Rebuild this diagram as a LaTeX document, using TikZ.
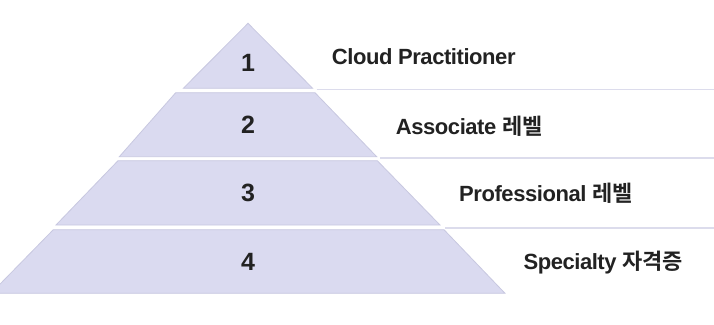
\documentclass[tikz,border=0pt]{standalone}
\usepackage{fontspec}
\setmainfont{Liberation Sans}
\newfontfamily\labfont{Liberation Sans}[LetterSpace=-2]
\newfontfamily\krfont{Noto Sans CJK KR}[BoldFont={* Bold}]
\definecolor{bandfill}{HTML}{DADAF0}
\definecolor{bandedge}{HTML}{C8C8E0}
\definecolor{sepline}{HTML}{DCDCEC}
\definecolor{txt}{HTML}{222222}
\begin{document}
\begin{tikzpicture}[x=1pt,y=-1pt,
  band/.style={fill=bandfill,draw=bandedge,line width=0.8pt,line join=miter},
  num/.style={text=txt,font=\fontsize{25}{25}\selectfont\bfseries,inner sep=0pt,anchor=base},
  lbl/.style={text=txt,font=\labfont\fontsize{22}{22}\selectfont\bfseries,inner sep=0pt,anchor=base west},
  kr/.style={},
  sep/.style={draw=sepline,line width=1.6pt}]
\useasboundingbox (0,0) rectangle (714,324);
% bands
\draw[band] (248,23.3) -- (312.7,88.3) -- (183.3,88.3) -- cycle;
\draw[band] (175.7,92.7) -- (315,92.7) -- (376.7,156.7) -- (119.3,156.7) -- cycle;
\draw[band] (118,160.7) -- (377.3,160.7) -- (440,225) -- (56,225) -- cycle;
\draw[band] (53.3,229.7) -- (444,229.7) -- (505,293.3) -- (-9,293.3) -- cycle;
% separator lines
\coordinate (s1a) at (316.7,89.3); \coordinate (s1b) at (714,89.3);
\coordinate (s2a) at (380,157.8); \coordinate (s2b) at (714,157.8);
\coordinate (s3a) at (445,227.7); \coordinate (s3b) at (714,227.7);
\draw[sep] (s1a) -- (s1b);
\draw[sep] (s2a) -- (s2b);
\draw[sep] (s3a) -- (s3b);
% numbers
\node[num] (n1) at (248,71.7) {1};
\node[num] (n2) at (248,133.3) {2};
\node[num] (n3) at (248,201.5) {3};
\node[num] (n4) at (248,270.5) {4};
% labels
\node[lbl] (l1) at (331.7,64.3) {Cloud Practitioner};
\node[lbl] (l2) at (395.7,134.3) {Associate {\krfont\bfseries\fontsize{22}{22}\selectfont 레벨}};
\node[lbl] (l3) at (459,201) {Professional {\krfont\bfseries\fontsize{22}{22}\selectfont 레벨}};
\node[lbl] (l4) at (523.3,269.3) {Specialty {\krfont\bfseries\fontsize{22}{22}\selectfont 자격증}};
\end{tikzpicture}
\end{document}
